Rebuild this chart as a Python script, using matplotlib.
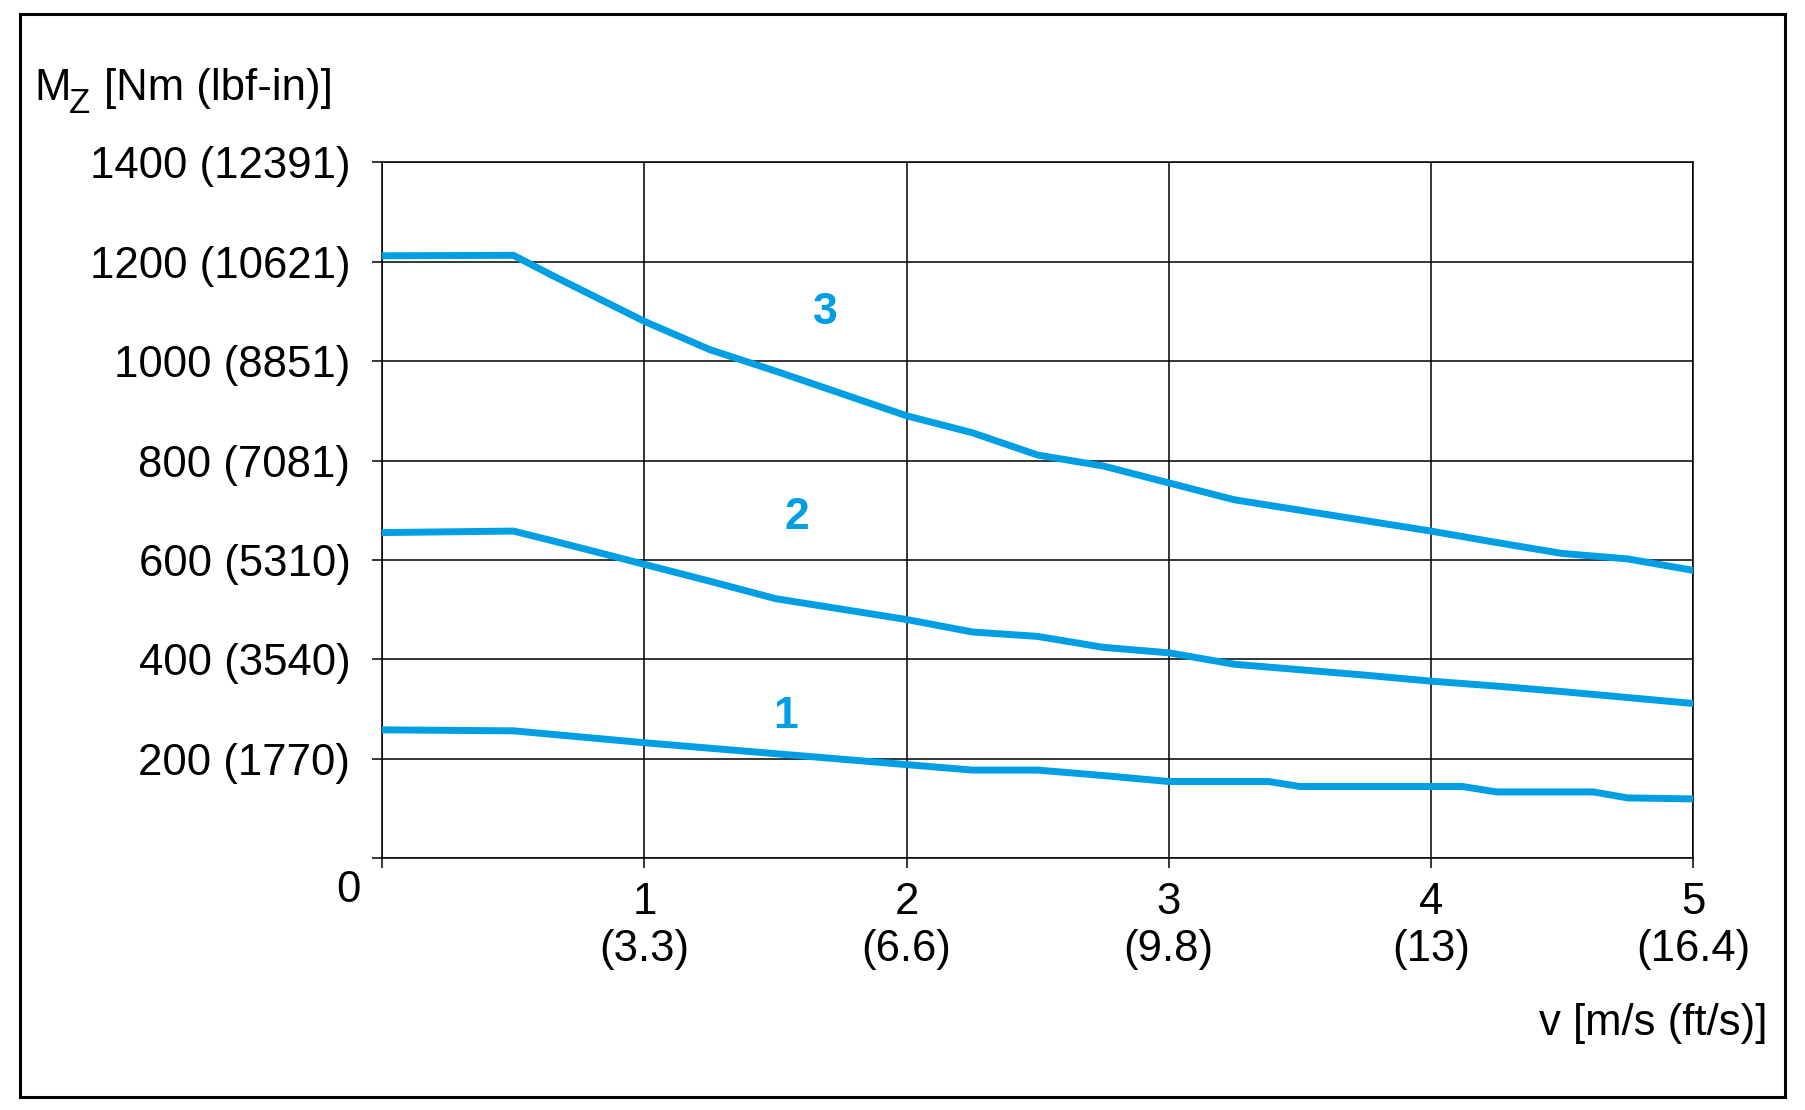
import numpy as np
import matplotlib
matplotlib.use('Agg')
import matplotlib.pyplot as plt
from matplotlib.patches import Rectangle

plt.rcParams['font.family'] = ['Liberation Sans', 'DejaVu Sans']

# curve 3
v3 = [0, 0.5, 0.65, 1.0, 1.25, 1.5, 2.0, 2.25, 2.5, 2.75, 3.0, 3.25, 3.5, 3.75, 4.0, 4.25, 4.5, 4.75, 5.0]
m3 = [1212, 1213, 1172, 1080, 1023, 980, 890, 856, 811, 789, 755, 721, 700, 679, 658, 635, 613, 602, 579]
# curve 2
v2 = [0, 0.5, 0.63, 0.75, 1.0, 1.25, 1.5, 2.0, 2.25, 2.5, 2.75, 3.0, 3.25, 3.5, 3.75, 4.0, 4.25, 4.5, 4.75, 5.0]
m2 = [655, 658, 641, 625, 591, 557, 522, 480, 455, 446, 424, 413, 390, 379, 368, 356, 346, 335, 323, 311]
# curve 1
v1 = [0, 0.5, 1.0, 2.0, 2.25, 2.5, 2.75, 3.0, 3.38, 3.5, 4.12, 4.25, 4.62, 4.75, 5.0]
m1 = [258, 256, 232, 188, 177, 177, 166, 154, 154, 144, 144, 133, 133, 121, 119]

curve_names = ['1', '2', '3']
label_pos = [(1.54, 285), (1.58, 686), (1.69, 1098)]

y_ticks = [0, 200, 400, 600, 800, 1000, 1200, 1400]
y_labels = ['', '200 (1770)', '400 (3540)', '600 (5310)', '800 (7081)',
            '1000 (8851)', '1200 (10621)', '1400 (12391)']
x_ticks = [0, 1, 2, 3, 4, 5]
x_labels = ['', '1\n(3.3)', '2\n(6.6)', '3\n(9.8)', '4\n(13)', '5\n(16.4)']

blue = '#009fe3'
fs = 31.5
W, H = 1806, 1110

fig = plt.figure(figsize=(W / 100, H / 100), dpi=100)
ax = fig.add_axes([0.2117, 0.2270, 0.9375 - 0.2117, 0.8537 - 0.2270])

for v, m in [(v1, m1), (v2, m2), (v3, m3)]:
    ax.plot(v, m, color=blue, lw=5, solid_joinstyle='miter', zorder=3)

for name, (x, y) in zip(curve_names, label_pos):
    ax.text(x, y, name, color=blue, fontsize=32, fontweight='bold',
            ha='center', va='center')

ax.set_xlim(0, 5)
ax.set_ylim(0, 1400)
ax.set_xticks(x_ticks)
ax.set_xticklabels(x_labels, fontsize=fs, linespacing=1.2)
ax.set_yticks(y_ticks)
ax.set_yticklabels(y_labels, fontsize=fs)
ax.tick_params(axis='both', direction='out', length=7, width=1.1, color='black')
ax.tick_params(axis='y', pad=16)
ax.tick_params(axis='x', pad=10)
ax.grid(True, color='black', lw=1.1)
for s in ax.spines.values():
    s.set_linewidth(1.1)
    s.set_color('black')

# "0" sits in the corner below the y labels
fig.text(348 / W, 1 - 890 / H, '0', fontsize=fs, ha='center', va='center')

# y axis title, M with a big subscript Z
fig.text(34 / W, 1 - 100 / H, 'M', fontsize=fs, ha='left', va='baseline')
fig.text(69 / W, 1 - 113 / H, 'Z', fontsize=25, ha='left', va='baseline')
fig.text(104 / W, 1 - 100 / H, '[Nm (lbf-in)]', fontsize=fs, ha='left', va='baseline')

fig.text(1768 / W, 1 - 1023 / H, 'v [m/s (ft/s)]', fontsize=fs,
         ha='right', va='center')

fig.patches.append(Rectangle((19.6 / W, 1 - 1096.5 / H),
                             (1785 - 19.6) / W, (1096.5 - 13.8) / H,
                             transform=fig.transFigure, fill=False,
                             edgecolor='black', lw=2.2))

fig.savefig('out.png', dpi=100)
